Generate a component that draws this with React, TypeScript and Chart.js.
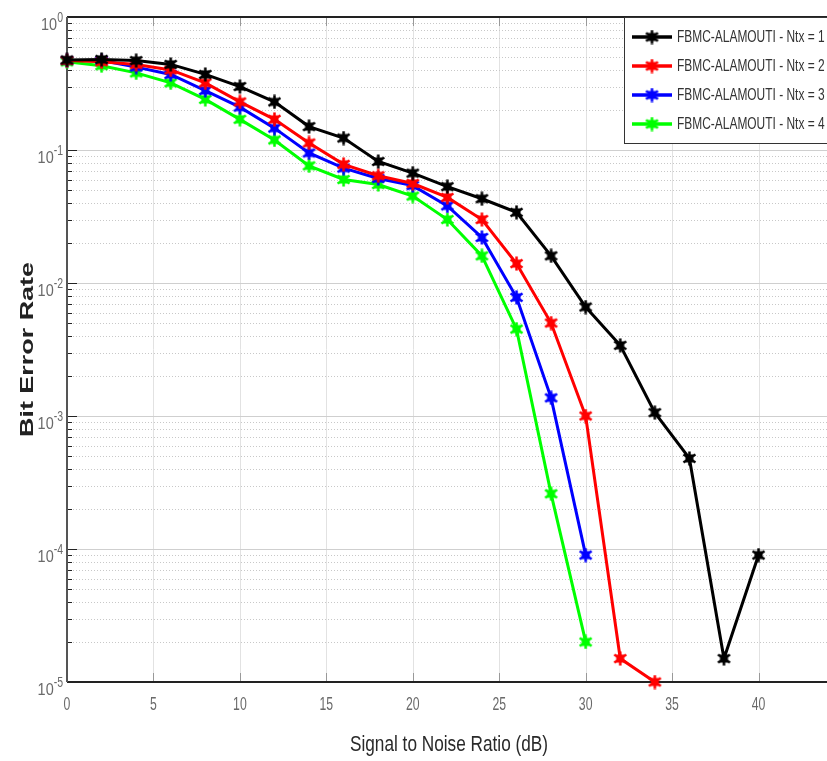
import React, { useEffect, useRef } from 'react';
import { Chart, registerables } from 'chart.js';
Chart.register(...registerables);

// ---- data ----
const snrNt1 = [0, 2, 4, 6, 8, 10, 12, 14, 16, 18, 20, 22, 24, 26, 28, 30, 32, 34, 36, 38, 40];
const berNt1 = [0.475, 0.48, 0.47, 0.44, 0.37, 0.30, 0.23, 0.15, 0.123, 0.082, 0.067, 0.053, 0.043, 0.034, 0.016, 0.0066, 0.0034, 0.00106, 0.00048, 0.000015, 0.00009];
const snrNt2 = [0, 2, 4, 6, 8, 10, 12, 14, 16, 18, 20, 22, 24, 26, 28, 30, 32, 34];
const berNt2 = [0.47, 0.46, 0.44, 0.40, 0.32, 0.23, 0.17, 0.113, 0.078, 0.064, 0.056, 0.044, 0.030, 0.014, 0.005, 0.001, 0.000015, 0.00001];
const snrNt3 = [0, 2, 4, 6, 8, 10, 12, 14, 16, 18, 20, 22, 24, 26, 28, 30];
const berNt3 = [0.47, 0.47, 0.42, 0.37, 0.28, 0.21, 0.146, 0.095, 0.073, 0.061, 0.054, 0.038, 0.022, 0.0078, 0.00137, 0.00009];
const snrNt4 = [0, 2, 4, 6, 8, 10, 12, 14, 16, 18, 20, 22, 24, 26, 28, 30];
const berNt4 = [0.46, 0.43, 0.38, 0.32, 0.24, 0.17, 0.119, 0.076, 0.06, 0.055, 0.045, 0.03, 0.016, 0.0045, 0.00026, 0.00002];

const seriesLabels = ['FBMC-ALAMOUTI - Ntx = 1', 'FBMC-ALAMOUTI - Ntx = 2', 'FBMC-ALAMOUTI - Ntx = 3', 'FBMC-ALAMOUTI - Ntx = 4'];
const seriesColors = ['#000000', '#ff0000', '#0000ff', '#00ff00'];
const xTickValues = [0, 5, 10, 15, 20, 25, 30, 35, 40, 45];
const yDecadeExponents = [0, -1, -2, -3, -4, -5];
const xTitle = 'Signal to Noise Ratio (dB)';
const yTitle = 'Bit Error Rate';

const NARROW = '"Liberation Sans Narrow", "Liberation Sans", Arial, sans-serif';

function makeMarker(color: string): HTMLCanvasElement {
  const c = document.createElement('canvas');
  c.width = 15; c.height = 15;
  const g = c.getContext('2d')!;
  g.fillStyle = color; g.strokeStyle = color;
  g.fillRect(3.5, 3.5, 8, 8);
  g.lineWidth = 2.5;
  g.beginPath();
  g.moveTo(7.5, 0.5); g.lineTo(7.5, 14.5);
  g.moveTo(1.5, 3.5); g.lineTo(13.5, 11.5);
  g.moveTo(1.5, 11.5); g.lineTo(13.5, 3.5);
  g.stroke();
  return c;
}

function drawStretched(ctx: CanvasRenderingContext2D, text: string, x: number, y: number, font: string, sx: number, align: string) {
  ctx.save();
  ctx.font = font;
  ctx.textBaseline = 'middle';
  ctx.textAlign = 'left';
  const w = ctx.measureText(text).width * sx;
  const x0 = align === 'center' ? x - w / 2 : align === 'right' ? x - w : x;
  ctx.translate(x0, y);
  ctx.scale(sx, 1);
  ctx.fillText(text, 0, 0);
  ctx.restore();
}

export default function App() {
  const ref = useRef<HTMLCanvasElement | null>(null);

  useEffect(() => {
    if (!ref.current) return;
    const markers = seriesColors.map(makeMarker);
    const xs = [snrNt1, snrNt2, snrNt3, snrNt4];
    const ys = [berNt1, berNt2, berNt3, berNt4];

    const plotDecor = {
      id: 'plotDecor',
      beforeDraw(chart: any) {
        const ctx = chart.ctx;
        ctx.save();
        ctx.fillStyle = '#ffffff';
        ctx.fillRect(0, 0, chart.width, chart.height);
        ctx.restore();
      },
      beforeDatasetsDraw(chart: any) {
        const ctx = chart.ctx;
        const { left, right, top, bottom } = chart.chartArea;
        const sx = chart.scales.x, sy = chart.scales.y;
        ctx.save();
        ctx.strokeStyle = '#e2e2e2';
        ctx.lineWidth = 1;
        xTickValues.forEach((v) => {
          const p = Math.round(sx.getPixelForValue(v)) + 0.5;
          ctx.beginPath(); ctx.moveTo(p, top); ctx.lineTo(p, bottom); ctx.stroke();
        });
        ctx.setLineDash([1, 2]);
        ctx.strokeStyle = '#c8c8c8';
        for (let e = -5; e < 0; e++) {
          for (let m = 2; m <= 9; m++) {
            const p = Math.round(sy.getPixelForValue(m * Math.pow(10, e))) + 0.5;
            ctx.beginPath(); ctx.moveTo(left, p); ctx.lineTo(right, p); ctx.stroke();
          }
        }
        ctx.setLineDash([]);
        ctx.strokeStyle = '#cfcfcf';
        yDecadeExponents.forEach((e) => {
          const p = Math.round(sy.getPixelForValue(Math.pow(10, e))) + 0.5;
          ctx.beginPath(); ctx.moveTo(left, p); ctx.lineTo(right, p); ctx.stroke();
        });
        ctx.strokeStyle = '#222';
        for (let e = -5; e < 0; e++) {
          for (let m = 1; m <= 9; m++) {
            const p = Math.round(sy.getPixelForValue(m * Math.pow(10, e))) + 0.5;
            const len = m === 1 ? 10 : 5;
            ctx.beginPath(); ctx.moveTo(left, p); ctx.lineTo(left + len, p); ctx.stroke();
          }
        }
        ctx.strokeStyle = '#999';
        xTickValues.forEach((v) => {
          const p = Math.round(sx.getPixelForValue(v)) + 0.5;
          ctx.beginPath(); ctx.moveTo(p, bottom); ctx.lineTo(p, bottom - 9); ctx.stroke();
          ctx.beginPath(); ctx.moveTo(p, top); ctx.lineTo(p, top + 9); ctx.stroke();
        });
        ctx.lineWidth = 2;
        ctx.strokeStyle = '#222';
        ctx.beginPath(); ctx.moveTo(left, top); ctx.lineTo(right, top); ctx.stroke();
        ctx.beginPath(); ctx.moveTo(left, bottom); ctx.lineTo(right, bottom); ctx.stroke();
        ctx.strokeStyle = '#555';
        ctx.beginPath(); ctx.moveTo(left, top); ctx.lineTo(left, bottom); ctx.stroke();
        ctx.restore();
      },
      afterDatasetsDraw(chart: any) {
        const ctx = chart.ctx;
        const { left, right, top, bottom } = chart.chartArea;
        const sx = chart.scales.x, sy = chart.scales.y;
        ctx.save();
        ctx.fillStyle = '#6a6a6a';
        xTickValues.forEach((v) => {
          drawStretched(ctx, String(v), sx.getPixelForValue(v), bottom + 23, `18px ${NARROW}`, 0.68, 'center');
        });
        yDecadeExponents.forEach((e) => {
          const p = sy.getPixelForValue(Math.pow(10, e));
          const expText = e === 0 ? '0' : '-' + String(-e);
          const expFont = `14px ${NARROW}`;
          ctx.font = expFont;
          const expW = ctx.measureText(expText).width * 0.75;
          const rightEdge = left - 4;
          drawStretched(ctx, expText, rightEdge, p + 1, expFont, 0.75, 'right');
          drawStretched(ctx, '10', rightEdge - expW, p + 8, `17px ${NARROW}`, 0.85, 'right');
        });
        ctx.fillStyle = '#2a2a2a';
        ctx.font = `22px ${NARROW}`;
        const xtw = ctx.measureText(xTitle).width;
        drawStretched(ctx, xTitle, (left + right) / 2 - 7, bottom + 63, `22px ${NARROW}`, 198 / xtw, 'center');
        ctx.save();
        ctx.translate(28, (top + bottom) / 2);
        ctx.rotate(-Math.PI / 2);
        ctx.fillStyle = '#222';
        const yFont = 'bold 18px "Liberation Sans", Arial, sans-serif';
        ctx.font = yFont;
        const ytw = ctx.measureText(yTitle).width;
        drawStretched(ctx, yTitle, 0, 0, yFont, 175 / ytw, 'center');
        ctx.restore();
        const lx = 624, ly = top, lw = 260, lh = 126;
        ctx.fillStyle = '#ffffff';
        ctx.fillRect(lx, ly, lw, lh);
        ctx.strokeStyle = '#333';
        ctx.lineWidth = 1;
        ctx.strokeRect(lx + 0.5, ly + 0.5, lw, lh);
        ctx.font = `16px ${NARROW}`;
        const tw = ctx.measureText('FBMC-ALAMOUTI - Ntx = ').width;
        const tsx = 141 / tw;
        seriesLabels.forEach((lab, i) => {
          const yy = 37 + i * 29;
          ctx.strokeStyle = seriesColors[i];
          ctx.lineWidth = 3.5;
          ctx.beginPath(); ctx.moveTo(632, yy); ctx.lineTo(672, yy); ctx.stroke();
          ctx.drawImage(markers[i], 652 - 7.5, yy - 7.5);
          ctx.fillStyle = '#333';
          drawStretched(ctx, lab, 677, yy + 1, `16px ${NARROW}`, tsx, 'left');
        });
        ctx.restore();
      },
    };

    const chart = new Chart(ref.current, {
      type: 'line',
      data: {
        datasets: seriesLabels.map((lab, i) => ({
          label: lab,
          data: xs[i].map((x, j) => ({ x, y: ys[i][j] })),
          borderColor: seriesColors[i],
          backgroundColor: seriesColors[i],
          borderWidth: 3,
          pointStyle: markers[i],
          pointRadius: 7,
          tension: 0,
          clip: false,
        })),
      },
      options: {
        responsive: false,
        animation: false,
        events: [],
        layout: { padding: { left: 67, top: 17, right: 15, bottom: 79 } },
        plugins: { legend: { display: false }, tooltip: { enabled: false } },
        scales: {
          x: { type: 'linear', min: 0, max: 45, display: false },
          y: { type: 'logarithmic', min: 1e-5, max: 1, display: false },
        },
      },
      plugins: [plotDecor],
    } as any);
    return () => chart.destroy();
  }, []);

  return (
    <div style={{ position: 'absolute', left: 0, top: 0, width: 827, height: 761, overflow: 'hidden', background: '#fff' }}>
      <canvas ref={ref} width={860} height={761} style={{ width: 860, height: 761, display: 'block' }} />
    </div>
  );
}
